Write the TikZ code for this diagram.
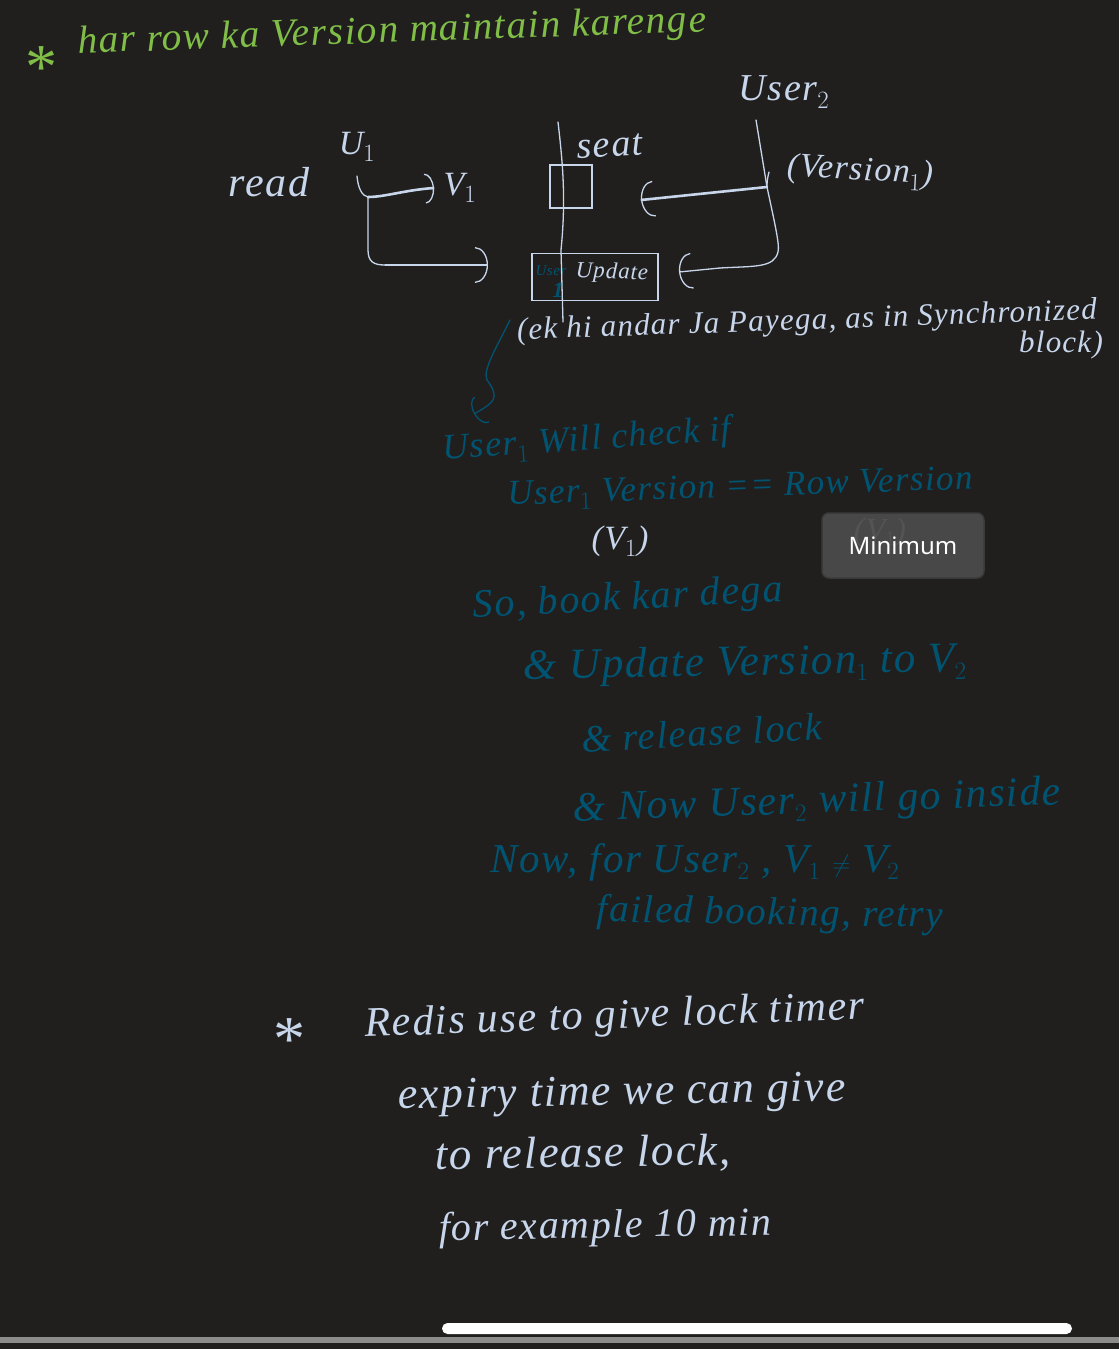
\documentclass[tikz,border=0pt]{standalone}
\usepackage{fontspec}
\usepackage{amsmath}
\setmainfont{Liberation Serif}
\newfontfamily\toastfont{Noto Sans}
\usetikzlibrary{arrows.meta,positioning,calc}
\definecolor{padblack} {RGB}{32,31,29}
\definecolor{inkgreen} {RGB}{128,190,72}
\definecolor{inkwhite} {RGB}{200,214,236}
\definecolor{inkteal}  {RGB}{0,84,114}
\definecolor{toastgray}{RGB}{72,72,72}
\definecolor{toastrim} {RGB}{58,58,58}
\definecolor{toastghost}{RGB}{84,84,84}
\definecolor{stripgray}{RGB}{140,140,138}
\tikzset{
  hand/.style   ={inner sep=0pt, font=\fontsize{#1}{#1}\selectfont\itshape\addfontfeature{LetterSpace=4}},
  hand/.default=34,
  greenline/.style={hand=#1, text=inkgreen},
  whiteline/.style={hand=#1, text=inkwhite},
  tealline/.style ={hand=#1, text=inkteal},
  framebox/.style ={draw=inkwhite, line width=1.3pt, inner sep=0pt},
  toastbox/.style ={draw=toastrim, line width=1.5pt, fill=toastgray, rounded corners=7pt,
                    minimum width=162pt, minimum height=65pt, inner sep=0pt},
  pen/.style    ={draw=inkwhite, line width=1.3pt, line cap=round},
  fatpen/.style ={draw=inkwhite, line width=2.6pt, line cap=round},
  tealpen/.style={draw=inkteal, line width=1.3pt, line cap=round},
  arr/.style    ={-{Arc Barb[length=13pt,width=36pt,line width=1.3pt]}},
  sarr/.style   ={-{Arc Barb[length=9pt,width=30pt,line width=1.3pt]}},
}
\begin{document}
\begin{tikzpicture}[x=1pt,y=-1pt]
  \useasboundingbox (0,0) rectangle (1119,1349);
  \fill[padblack] (0,0) rectangle (1119,1349);
  %% heading
  \node[greenline=64] (star) at (39,68) {*};
  \node[greenline=39.3, rotate=2] (title) at (392,33) {har row ka Version maintain karenge};
  %% seat diagram
  \node[whiteline=38] (user2) at (784,92) {User$_2$};
  \node[whiteline=34] (u1) at (357,147) {U$_1$};
  \node[whiteline=42] (read) at (269,182) {read};
  \node[whiteline=34] (v1) at (460,188) {V$_1$};
  \node[whiteline=38, rotate=3] (seat) at (610,146) {seat};
  \node[whiteline=34, rotate=-3] (ver1) at (860,172) {(Version$_1$)};
  \node[framebox, minimum width=42pt, minimum height=43pt] (seatbox) at (571,186.5) {};
  \node[framebox, minimum width=126pt, minimum height=47pt, below=44pt of seatbox.south west, anchor=north west, xshift=-18pt] (updbox) {};
  \node[whiteline=23, rotate=-2] (upd) at (612,273) {Update};
  \node[tealline=15] (usr) at (551,271) {User};
  \node[tealline=22] (usrone) at (558,290) {\textbf{1}};
  \node[whiteline=31, rotate=2] (ekhi) at (807,322) {(ek hi andar Ja Payega, as in Synchronized};
  \node[whiteline=31] (blk) at (1061,345) {block)};
  %% free ends of the pen strokes
  \coordinate (seattop) at (558,122);
  \coordinate (seatend) at (563,322);
  \coordinate (u2top) at (756,120);
  \coordinate (u2fork) at (767,187);
  \coordinate (u1top) at (357,176);
  \coordinate (u1fork) at (368,197);
  \coordinate (u1tip) at (434,188);
  \coordinate (u1low) at (488,265);
  \coordinate (u2seat) at (641,200);
  \coordinate (u2upd) at (679,272);
  \coordinate (tealtop) at (510,320);
  \coordinate (tealtip) at (474,414);
  \draw[pen] (seattop) .. controls (563,165) and (566,200) .. (561,250) -- (seatend);
  \draw[pen] (u2top) -- (u2fork) .. controls (774,220) and (780,245) .. (778,252)
     .. controls (774,268) and (755,266) .. (720,268);
  \draw[pen, arr] (720,268) -- (u2upd);
  \draw[pen] (769,172) .. controls (767,180) and (767,183) .. (u2fork);
  \draw[fatpen, arr] (u2fork) -- (u2seat);
  \draw[pen] (u1top) .. controls (358,188) and (362,196) .. (u1fork);
  \draw[fatpen, sarr] (u1fork) .. controls (385,197) and (405,190) .. (u1tip);
  \draw[pen] (u1fork) -- (368,250) .. controls (368,262) and (374,265) .. (385,265);
  \draw[pen, arr] (385,265) -- (u1low);
  \draw[tealpen, sarr] (tealtop) .. controls (498,345) and (482,370) .. (487,380)
     .. controls (500,398) and (495,402) .. (tealtip);
  %% teal notes
  \node[tealline=36, rotate=4] (chk) at (587,441) {User$_1$ Will check if};
  \node[tealline=35, rotate=2] (cmp) at (740,489) {User$_1$ Version == Row Version};
  \node[whiteline=34] (v1note) at (620,541) {(V$_1$)};
  \node[tealline=40, rotate=3] (book) at (628,600) {So, book kar dega};
  \node[tealline=43, rotate=1] (updt) at (745,665) {\& Update Version$_1$ to V$_2$};
  \node[tealline=38.5, rotate=3] (rel) at (702,733) {\& release lock};
  \node[tealline=41.5, rotate=2] (nowu) at (817,803) {\& Now User$_2$ will go inside};
  \node[tealline=41] (nowf) at (695,862) {Now, for User$_2$ , V$_1$ $\neq$ V$_2$};
  \node[tealline=39, rotate=-1] (fail) at (770,915) {failed booking, retry};
  %% toast
  \node[toastbox] (toast) at (903,545.5) {};
  \node[hand=32, text=toastghost] (ghost) at (880,533) {(V$_1$)};
  \node[text=white, font=\toastfont\fontsize{24}{24}\selectfont, inner sep=0pt] (mintxt) at (toast) {Minimum};
  %% redis notes
  \node[whiteline=64] (star2) at (286,1040) {*};
  \node[whiteline=42, rotate=2] (red1) at (615,1018) {Redis use to give lock timer};
  \node[whiteline=44, rotate=1] (red2) at (622,1095) {expiry time we can give};
  \node[whiteline=45, rotate=1] (red3) at (583,1155) {to release lock,};
  \node[whiteline=40, rotate=1] (red4) at (605,1228) {for example 10 min};
  %% bottom bars
  \fill[stripgray] (0,1337) rectangle (1119,1343);
  \fill[white, rounded corners=5.5pt] (442,1323) rectangle (1072,1334);
\end{tikzpicture}
\end{document}
